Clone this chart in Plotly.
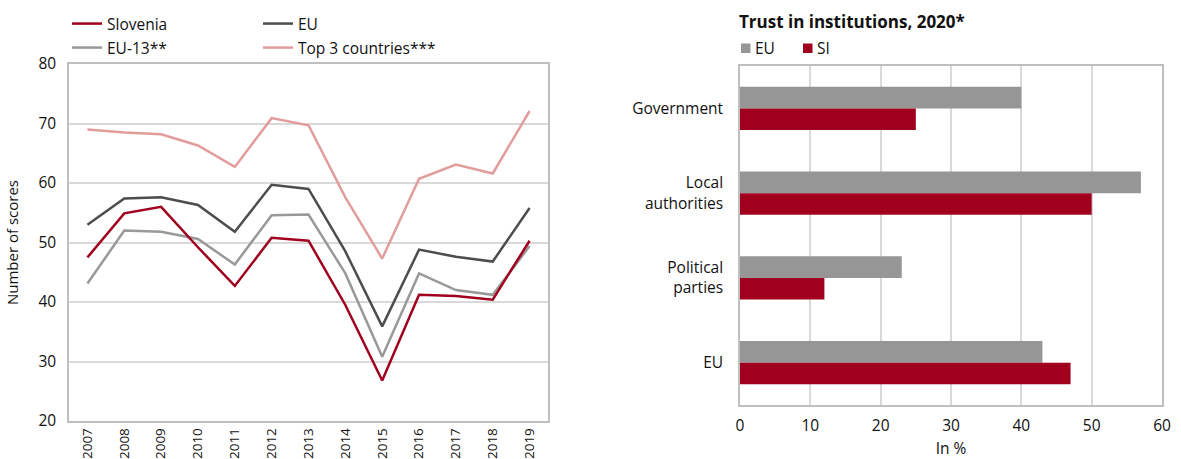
import plotly.graph_objects as go

W, H = 1181, 459
FONT = "Open Sans"

# Left panel: scores by year
years = ["2007", "2008", "2009", "2010", "2011", "2012", "2013",
         "2014", "2015", "2016", "2017", "2018", "2019"]
slovenia = [47.5, 54.9, 56.0, 49.2, 42.7, 50.8, 50.3, 39.5, 26.8, 41.2, 41.0, 40.4, 50.3]
eu = [53.0, 57.4, 57.6, 56.3, 51.8, 59.7, 59.0, 48.5, 35.9, 48.8, 47.6, 46.8, 55.8]
eu13 = [43.1, 52.0, 51.8, 50.6, 46.3, 54.6, 54.7, 44.8, 30.8, 44.8, 42.0, 41.2, 49.4]
top3 = [69.0, 68.5, 68.2, 66.3, 62.7, 70.9, 69.7, 57.6, 47.3, 60.7, 63.1, 61.6, 72.1]

# Right panel: trust in institutions
institutions = ["Government", "Local<br>authorities", "Political<br>parties", "EU"]
trust_eu = [40, 57, 23, 43]
trust_si = [25, 50, 12, 47]
bar_names = ["EU", "SI"]

RED = "#A0001E"
DARK = "#4D4D4D"
GREY = "#999999"
PINK = "#E29C9C"
BAR_GREY = "#969696"
GRID = "#D9D9D9"
BORDER = "#BFBFBF"
TXT = "#111111"

fig = go.Figure()

line_series = [
    ("Slovenia", slovenia, RED, "legend"),
    ("EU", eu, DARK, "legend"),
    ("EU-13**", eu13, GREY, "legend2"),
    ("Top 3 countries***", top3, PINK, "legend2"),
]
# draw order: top 3 first so the red line sits on top
for name, vals, col, lg in reversed(line_series):
    fig.add_trace(go.Scatter(
        x=years, y=vals, mode="lines", name=name,
        line=dict(color=col, width=2.5),
        xaxis="x", yaxis="y", legend=lg,
    ))

bar_colors = [BAR_GREY, RED]
for name, vals, col in zip(bar_names, [trust_eu, trust_si], bar_colors):
    fig.add_trace(go.Bar(
        y=institutions, x=vals, orientation="h", name=name,
        marker=dict(color=col, line=dict(width=0)),
        xaxis="x2", yaxis="y2", showlegend=False,
    ))


def px_x(p):
    return p / W


def px_y(p):
    return 1 - p / H


# compact key for the bar panel: small swatch followed closely by its label
shapes = []
annotations = [dict(
    text="<b>Trust in institutions, 2020*</b>",
    x=px_x(737), y=px_y(22), xref="paper", yref="paper",
    xanchor="left", yanchor="middle", showarrow=False,
    font=dict(size=17, color=TXT),
)]
for (sx, tx), name, col in zip([(741, 753), (803, 815)], bar_names, bar_colors):
    shapes.append(dict(
        type="rect", xref="paper", yref="paper",
        x0=px_x(sx), x1=px_x(sx + 9.5), y0=px_y(53), y1=px_y(43.5),
        fillcolor=col, line=dict(width=0),
    ))
    annotations.append(dict(
        text=name, x=px_x(tx), y=px_y(48), xref="paper", yref="paper",
        xanchor="left", yanchor="middle", showarrow=False,
        font=dict(size=15.5, color=TXT),
    ))

fig.update_layout(
    width=W, height=H,
    margin=dict(l=0, r=0, t=0, b=0, autoexpand=False),
    paper_bgcolor="white", plot_bgcolor="white",
    font=dict(family=FONT, size=15, color=TXT),
    barmode="group", bargap=0.49, bargroupgap=0,
    xaxis=dict(
        domain=[px_x(69), px_x(548)], anchor="y", automargin=False,
        type="category", range=[-0.5, 12.5],
        tickangle=-90, tickfont=dict(size=13.5),
        showgrid=False, showline=True, mirror=True,
        linecolor=BORDER, linewidth=1.5, ticks="",
    ),
    yaxis=dict(
        domain=[px_y(421), px_y(64)], anchor="x", automargin=False,
        range=[20, 80], dtick=10, tickfont=dict(size=15.5),
        showgrid=True, gridcolor=GRID, gridwidth=1.5,
        showline=True, mirror=True, linecolor=BORDER, linewidth=1.5,
        zeroline=False, ticks="", ticklen=0, ticklabelstandoff=8,
        title=dict(text="Number of scores", font=dict(size=15), standoff=16),
    ),
    xaxis2=dict(
        domain=[px_x(740), px_x(1162)], anchor="y2", automargin=False,
        range=[0, 60], dtick=10, tickfont=dict(size=15.5),
        showgrid=True, gridcolor=GRID, gridwidth=1.5,
        showline=True, mirror=True, linecolor=BORDER, linewidth=1.5,
        zeroline=False, ticks="", ticklabelstandoff=6,
        title=dict(text="In %", font=dict(size=15.5), standoff=8),
    ),
    yaxis2=dict(
        domain=[px_y(405), px_y(66)], anchor="x2", automargin=False,
        type="category", autorange="reversed", tickfont=dict(size=15.5),
        showgrid=False, showline=True, mirror=True,
        linecolor=BORDER, linewidth=1.5, ticks="", ticklabelstandoff=12,
    ),
    legend=dict(
        orientation="h", x=px_x(67), y=px_y(7), xanchor="left", yanchor="top",
        entrywidth=146, entrywidthmode="pixels", traceorder="reversed",
        font=dict(size=15.5), bgcolor="rgba(0,0,0,0)", itemwidth=30,
    ),
    legend2=dict(
        orientation="h", x=px_x(67), y=px_y(31), xanchor="left", yanchor="top",
        entrywidth=146, entrywidthmode="pixels", traceorder="reversed",
        font=dict(size=15.5), bgcolor="rgba(0,0,0,0)", itemwidth=30,
    ),
    shapes=shapes,
    annotations=annotations,
)

fig.write_html("out.html")
